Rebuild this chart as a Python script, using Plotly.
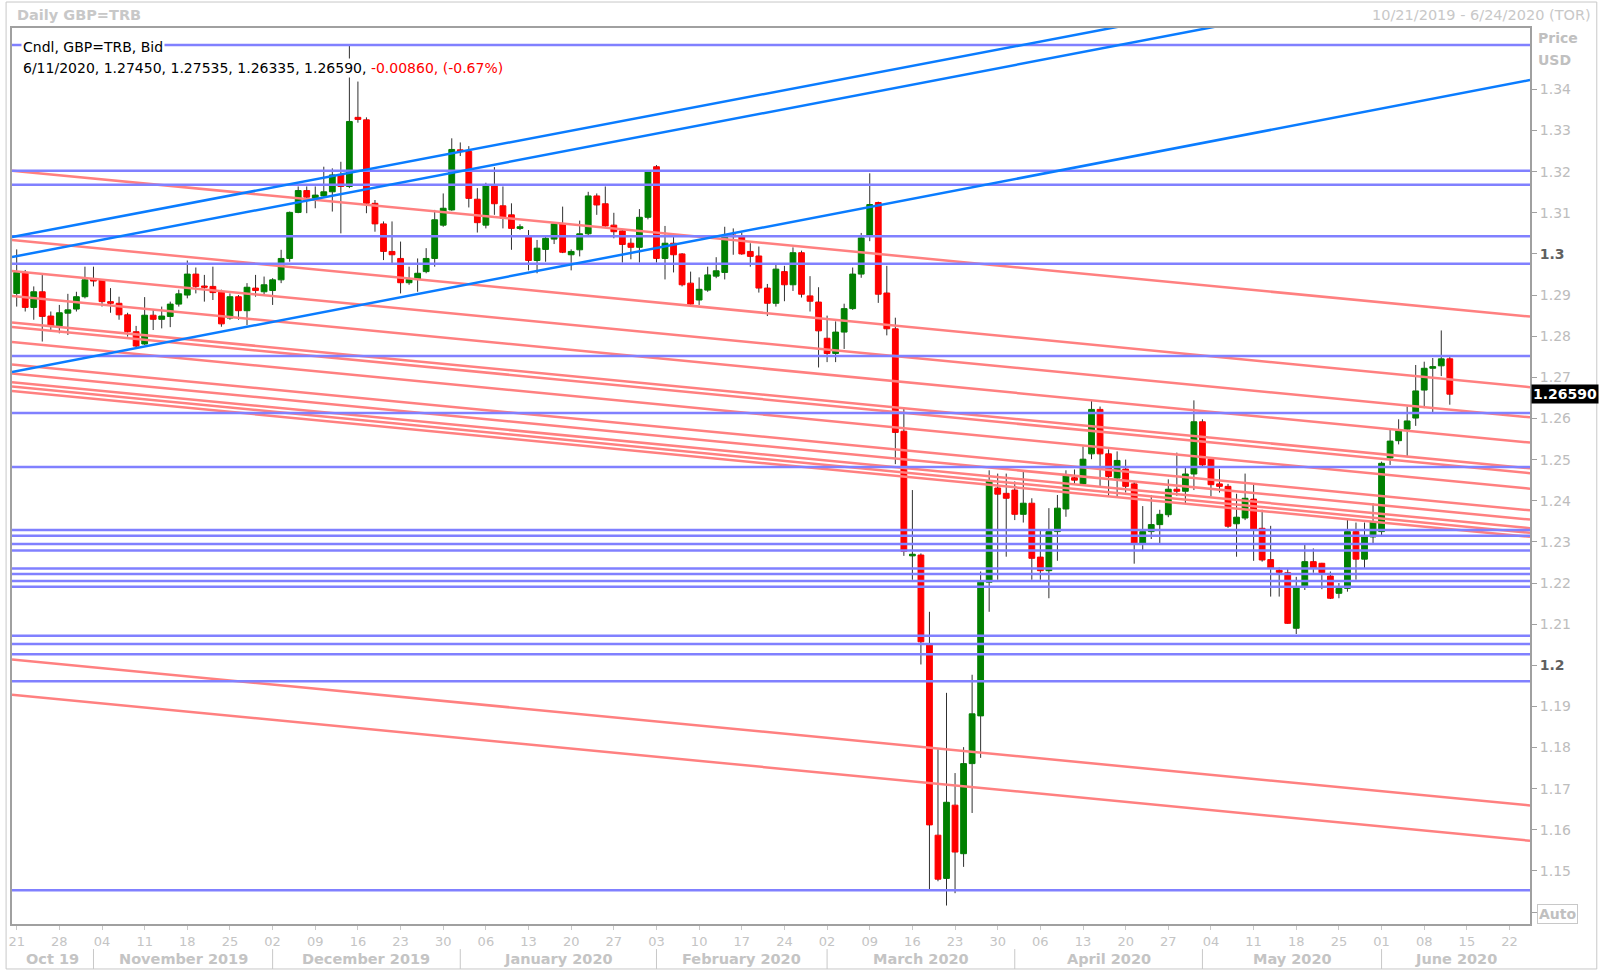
import plotly.graph_objects as go
import pandas as pd

# ---------------- data ----------------
dates = pd.bdate_range("2019-10-21", "2020-06-11")          # candle dates
axis_days = pd.bdate_range("2019-10-21", "2020-06-24")      # axis calendar (incl. future)

opens = [1.2904, 1.2955, 1.2870, 1.2908, 1.2849, 1.2825, 1.2856, 1.2866, 1.2896, 1.2939,
         1.2937, 1.2884, 1.2880, 1.2852, 1.2811, 1.2781, 1.2851, 1.2841, 1.2848, 1.2878,
         1.2900, 1.2951, 1.2922, 1.2921, 1.2907, 1.2844, 1.2896, 1.2862, 1.2917, 1.2908,
         1.2911, 1.2937, 1.2989, 1.3101, 1.3154, 1.3135, 1.3141, 1.3151, 1.3192, 1.3164,
         1.3332, 1.3326, 1.3123, 1.3073, 1.3006, 1.2989, 1.2930, 1.2938, 1.2957, 1.2989,
         1.3070, 1.3107, 1.3253, 1.3249, 1.3133, 1.3070, 1.3165, 1.3117, 1.3095, 1.3062,
         1.3041, 1.2984, 1.3011, 1.3036, 1.3073, 1.2998, 1.3010, 1.3049, 1.3141, 1.3122,
         1.3070, 1.3056, 1.3026, 1.3016, 1.3089, 1.3212, 1.2989, 1.3026, 1.3000, 1.2929,
         1.2888, 1.2912, 1.2946, 1.2955, 1.3046, 1.3042, 1.3006, 1.2995, 1.2917, 1.2880,
         1.2957, 1.2925, 1.3003, 1.2898, 1.2883, 1.2795, 1.2758, 1.2810, 1.2867, 1.2951,
         1.3045, 1.3125, 1.2905, 1.2818, 1.2569, 1.2266, 1.2268, 1.2050, 1.1587, 1.1482,
         1.1660, 1.1542, 1.1761, 1.1877, 1.2202, 1.2431, 1.2418, 1.2426, 1.2367, 1.2394,
         1.2263, 1.2230, 1.2325, 1.2380, 1.2456, 1.2441, 1.2514, 1.2622, 1.2514, 1.2455,
         1.2477, 1.2441, 1.2297, 1.2325, 1.2342, 1.2366, 1.2428, 1.2423, 1.2465, 1.2592,
         1.2501, 1.2441, 1.2435, 1.2344, 1.2358, 1.2404, 1.2333, 1.2257, 1.2231, 1.2225,
         1.2090, 1.2192, 1.2252, 1.2248, 1.2217, 1.2175, 1.2187, 1.2325, 1.2258, 1.2312,
         1.2325, 1.2504, 1.2546, 1.2574, 1.2601, 1.2669, 1.2722, 1.2728, 1.27450]
highs = [1.3011, 1.2961, 1.2921, 1.2949, 1.2860, 1.2876, 1.2903, 1.2908, 1.2969, 1.2969,
         1.2938, 1.2917, 1.2896, 1.2857, 1.2825, 1.2895, 1.2866, 1.2872, 1.2884, 1.2913,
         1.2984, 1.2967, 1.2949, 1.2969, 1.2913, 1.2904, 1.2900, 1.2929, 1.2949, 1.2945,
         1.2941, 1.3010, 1.3103, 1.3164, 1.3164, 1.3164, 1.3212, 1.3208, 1.3224, 1.3508,
         1.3419, 1.3332, 1.3131, 1.3079, 1.3079, 1.3030, 1.2969, 1.2989, 1.3014, 1.3107,
         1.3147, 1.3281, 1.3271, 1.3262, 1.3160, 1.3173, 1.3211, 1.3164, 1.3123, 1.3072,
         1.3058, 1.3034, 1.3041, 1.3075, 1.3115, 1.3011, 1.3081, 1.3151, 1.3147, 1.3164,
         1.3100, 1.3060, 1.3038, 1.3109, 1.3204, 1.3216, 1.3068, 1.3046, 1.3002, 1.2957,
         1.2943, 1.2969, 1.2992, 1.3066, 1.3062, 1.3052, 1.3026, 1.3018, 1.2927, 1.2973,
         1.2971, 1.3016, 1.3008, 1.2946, 1.2919, 1.2850, 1.2836, 1.2879, 1.2967, 1.3051,
         1.3196, 1.3127, 1.2971, 1.2845, 1.2627, 1.2426, 1.2272, 1.2130, 1.1796, 1.1933,
         1.1738, 1.1801, 1.1977, 1.2228, 1.2474, 1.2466, 1.2466, 1.2447, 1.2470, 1.2406,
         1.2327, 1.2382, 1.2414, 1.2474, 1.2476, 1.2532, 1.2644, 1.2629, 1.2525, 1.2520,
         1.2500, 1.2447, 1.2387, 1.2414, 1.2378, 1.2452, 1.2517, 1.2483, 1.2644, 1.2598,
         1.2503, 1.2477, 1.2441, 1.2417, 1.2466, 1.2439, 1.2378, 1.2339, 1.2238, 1.2234,
         1.2215, 1.2297, 1.2284, 1.2249, 1.2228, 1.2200, 1.2357, 1.2347, 1.2347, 1.2394,
         1.2495, 1.2574, 1.2598, 1.2629, 1.2730, 1.2738, 1.2747, 1.2814, 1.27535]
lows = [1.2872, 1.2860, 1.2840, 1.2787, 1.2811, 1.2807, 1.2803, 1.2860, 1.2892, 1.2921,
        1.2872, 1.2857, 1.2840, 1.2799, 1.2771, 1.2779, 1.2815, 1.2819, 1.2822, 1.2872,
        1.2892, 1.2904, 1.2884, 1.2888, 1.2823, 1.2840, 1.2840, 1.2827, 1.2896, 1.2900,
        1.2876, 1.2929, 1.2981, 1.3099, 1.3099, 1.3111, 1.3139, 1.3103, 1.3050, 1.3160,
        1.3319, 1.3099, 1.3054, 1.2985, 1.2977, 1.2904, 1.2925, 1.2908, 1.2953, 1.2969,
        1.3066, 1.3105, 1.3238, 1.3113, 1.3052, 1.3062, 1.3095, 1.3062, 1.3010, 1.3058,
        1.2960, 1.2953, 1.2981, 1.3024, 1.3002, 1.2960, 1.2994, 1.3046, 1.3095, 1.3066,
        1.3038, 1.2979, 1.2987, 1.2979, 1.3084, 1.2979, 1.2938, 1.2955, 1.2921, 1.2876,
        1.2876, 1.2908, 1.2941, 1.2938, 1.2998, 1.2998, 1.2969, 1.2906, 1.2849, 1.2872,
        1.2885, 1.2910, 1.2894, 1.2860, 1.2724, 1.2737, 1.2737, 1.2769, 1.2864, 1.2942,
        1.3031, 1.2881, 1.2802, 1.2489, 1.2266, 1.2208, 1.2002, 1.1455, 1.1475, 1.1416,
        1.1446, 1.1510, 1.1641, 1.1775, 1.2130, 1.2208, 1.2264, 1.2353, 1.2347, 1.2208,
        1.2208, 1.2163, 1.2254, 1.2361, 1.2441, 1.2436, 1.2501, 1.2436, 1.2412, 1.2411,
        1.2420, 1.2247, 1.2280, 1.2307, 1.2297, 1.2360, 1.2412, 1.2394, 1.2426, 1.2483,
        1.2411, 1.2420, 1.2334, 1.2264, 1.2353, 1.2254, 1.2252, 1.2167, 1.2167, 1.2101,
        1.2076, 1.2183, 1.2225, 1.2185, 1.2161, 1.2163, 1.2179, 1.2208, 1.2236, 1.2297,
        1.2315, 1.2487, 1.2537, 1.2506, 1.2582, 1.2625, 1.2615, 1.2703, 1.26335]
closes = [1.2955, 1.2870, 1.2908, 1.2848, 1.2825, 1.2857, 1.2864, 1.2896, 1.2937, 1.2934,
          1.2884, 1.2880, 1.2852, 1.2811, 1.2776, 1.2851, 1.2841, 1.2849, 1.2878, 1.2903,
          1.2951, 1.2921, 1.2919, 1.2906, 1.2830, 1.2896, 1.2862, 1.2919, 1.2911, 1.2925,
          1.2937, 1.2989, 1.3101, 1.3154, 1.3138, 1.3143, 1.3151, 1.3192, 1.3164, 1.3322,
          1.3327, 1.3123, 1.3073, 1.3006, 1.2998, 1.2930, 1.2938, 1.2953, 1.2989, 1.3083,
          1.3111, 1.3254, 1.3249, 1.3135, 1.3076, 1.3168, 1.3122, 1.3087, 1.3062, 1.3066,
          1.2984, 1.3014, 1.3038, 1.3073, 1.3004, 1.3006, 1.3049, 1.3141, 1.3119, 1.3068,
          1.3054, 1.3023, 1.3016, 1.3089, 1.3200, 1.2989, 1.3026, 1.2998, 1.2925, 1.2878,
          1.2914, 1.2949, 1.2959, 1.3042, 1.3042, 1.3000, 1.2994, 1.2917, 1.2880, 1.2963,
          1.2925, 1.3003, 1.2902, 1.2885, 1.2813, 1.2758, 1.2810, 1.2867, 1.2951, 1.3039,
          1.3120, 1.2902, 1.2818, 1.2566, 1.2277, 1.2270, 1.2057, 1.1612, 1.1480, 1.1667,
          1.1546, 1.1761, 1.1882, 1.2202, 1.2449, 1.2416, 1.2406, 1.2367, 1.2394, 1.2260,
          1.2230, 1.2325, 1.2382, 1.2460, 1.2450, 1.2501, 1.2622, 1.2514, 1.2459, 1.2498,
          1.2435, 1.2297, 1.2325, 1.2342, 1.2367, 1.2428, 1.2423, 1.2465, 1.2592, 1.2487,
          1.2439, 1.2435, 1.2338, 1.2360, 1.2406, 1.2331, 1.2256, 1.2236, 1.2226, 1.2102,
          1.2188, 1.2252, 1.2236, 1.2225, 1.2163, 1.2187, 1.2325, 1.2258, 1.2312, 1.2349,
          1.2491, 1.2545, 1.2570, 1.2594, 1.2667, 1.2722, 1.2726, 1.2745, 1.26590]

# horizontal support/resistance levels
h_levels = [1.3508, 1.3202, 1.3168, 1.3043, 1.2976, 1.2752, 1.2613, 1.2482,
            1.2329, 1.2315, 1.2295, 1.2279, 1.2235, 1.2222, 1.2205, 1.2191,
            1.2072, 1.2052, 1.2027, 1.1961, 1.1453]
# falling trend lines: price at left edge / right edge of the chart
down_start = [1.32024, 1.30340, 1.29587, 1.28979, 1.28335, 1.28226, 1.27861,
              1.27310, 1.27091, 1.26882, 1.26780, 1.26671, 1.20141, 1.19283]
down_end = [1.28476, 1.26761, 1.26027, 1.25414, 1.24787, 1.24671, 1.24294,
            1.23767, 1.23543, 1.23334, 1.23220, 1.23123, 1.16593, 1.15735]
# rising trend lines
up_start = [1.30411, 1.29925, 1.27130]
up_end = [1.37426, 1.36989, 1.34228]

month_names = ["Oct 19", "November 2019", "December 2019", "January 2020", "February 2020",
               "March 2020", "April 2020", "May 2020", "June 2020"]
y_ticks = [1.14, 1.15, 1.16, 1.17, 1.18, 1.19, 1.20, 1.21, 1.22, 1.23, 1.24, 1.25,
           1.26, 1.27, 1.28, 1.29, 1.30, 1.31, 1.32, 1.33, 1.34]

# ---------------- layout constants ----------------
X_MIN, X_MAX = -0.55, 177.4
Y_MIN, Y_MAX = 1.13711, 1.35492
GREEN, RED = "#008000", "#FF0000"
FONT = "DejaVu Sans, Verdana, sans-serif"
LIGHT = "#C4C4C4"

idx = list(range(len(dates)))
body_hi = [max(o, c) for o, c in zip(opens, closes)]
body_lo = [min(o, c) for o, c in zip(opens, closes)]

fig = go.Figure()

fig.add_trace(go.Candlestick(
    x=idx, open=opens, high=body_hi, low=body_lo, close=closes,
    increasing=dict(fillcolor=GREEN, line=dict(color=GREEN, width=1)),
    decreasing=dict(fillcolor=RED, line=dict(color=RED, width=1)),
    whiskerwidth=0, showlegend=False, hoverinfo="skip"))

# wicks (dark), drawn outside the bodies
wx, wy = [], []
for i, h, l, bh, bl in zip(idx, highs, lows, body_hi, body_lo):
    wx += [i, i, None, i, i, None]
    wy += [h, bh, None, bl, l, None]
fig.add_trace(go.Scatter(x=wx, y=wy, mode="lines", line=dict(color="#303030", width=1),
                         hoverinfo="skip", showlegend=False))


def seg_trace(starts, ends, color, width):
    xs, ys = [], []
    for s, e in zip(starts, ends):
        xs += [X_MIN, X_MAX, None]
        ys += [s, e, None]
    return go.Scatter(x=xs, y=ys, mode="lines", line=dict(color=color, width=width),
                      hoverinfo="skip", showlegend=False)


fig.add_trace(seg_trace(down_start, down_end, "#FF8080", 2.5))
fig.add_trace(seg_trace(h_levels, h_levels, "#8080FF", 2.5))
fig.add_trace(seg_trace(up_start, up_end, "#0A7CFF", 2.5))

# x ticks: Mondays
tickvals = [i for i, d in enumerate(axis_days) if d.weekday() == 0]
ticktext = [axis_days[i].strftime("%d") for i in tickvals]

# month separators and labels
firsts = []
prev = None
for i, d in enumerate(axis_days):
    key = (d.year, d.month)
    if key != prev:
        firsts.append(i)
        prev = key
seps = firsts[1:]
bounds = [X_MIN] + seps + [X_MAX]
centers = [(bounds[k] + bounds[k + 1]) / 2 for k in range(len(bounds) - 1)]

shapes = []
for s in seps:
    shapes.append(dict(type="line", xref="x", yref="paper", x0=s, x1=s,
                       y0=-0.028, y1=-0.0502, line=dict(color="#C8C8C8", width=1)))
# outer frame
shapes.append(dict(type="rect", xref="paper", yref="paper", x0=-0.0039, x1=1.0440,
                   y0=1.029, y1=-0.0502, line=dict(color="#C8C8C8", width=1)))

annotations = []
for c, name in zip(centers, month_names):
    annotations.append(dict(x=c, y=-0.0391, xref="x", yref="paper", text="<b>%s</b>" % name,
                            showarrow=False, xanchor="center", yanchor="middle",
                            font=dict(family=FONT, size=14.5, color=LIGHT)))

annotations += [
    dict(x=0.0018, y=1.0145, xref="paper", yref="paper", text="<b>Daily GBP=TRB</b>",
         showarrow=False, xanchor="left", yanchor="middle",
         font=dict(family=FONT, size=14.5, color="#C8C8C8")),
    dict(x=1.0414, y=1.0145, xref="paper", yref="paper", text="10/21/2019 - 6/24/2020 (TOR)",
         showarrow=False, xanchor="right", yanchor="middle",
         font=dict(family=FONT, size=14.5, color="#C8C8C8")),
    dict(x=0.0060, y=0.9788, xref="paper", yref="paper", text="Cndl, GBP=TRB, Bid",
         showarrow=False, xanchor="left", yanchor="middle", bgcolor="white", borderpad=1,
         font=dict(family=FONT, size=14, color="black")),
    dict(x=0.0060, y=0.9554, xref="paper", yref="paper",
         text="6/11/2020, 1.27450, 1.27535, 1.26335, 1.26590, "
              "<span style='color:#FF0000'>-0.00860, (-0.67%)</span>",
         showarrow=False, xanchor="left", yanchor="middle", bgcolor="white", borderpad=1,
         font=dict(family=FONT, size=14, color="black")),
    dict(x=1.0039, y=0.9888, xref="paper", yref="paper", text="<b>Price</b>",
         showarrow=False, xanchor="left", yanchor="middle",
         font=dict(family=FONT, size=14, color="#C0C0C0")),
    dict(x=1.0039, y=0.9643, xref="paper", yref="paper", text="<b>USD</b>",
         showarrow=False, xanchor="left", yanchor="middle",
         font=dict(family=FONT, size=14, color="#C0C0C0")),
    dict(x=1.0007, y=closes[-1], xref="paper", yref="y", text="<b>%.5f</b>" % closes[-1],
         showarrow=False, xanchor="left", yanchor="middle", bgcolor="black", borderpad=1,
         font=dict(family=FONT, size=14, color="white")),
    dict(x=1.0046, y=0.0112, xref="paper", yref="paper", text="<b>Auto</b>",
         showarrow=False, xanchor="left", yanchor="middle", bordercolor="#C8C8C8",
         borderwidth=1, borderpad=1, bgcolor="white",
         font=dict(family=FONT, size=14, color="#C0C0C0")),
]

ytext = []
for v in y_ticks:
    if abs(v - 1.14) < 1e-9:
        ytext.append("")
    elif abs(v - 1.2) < 1e-9 or abs(v - 1.3) < 1e-9:
        ytext.append("<b><span style='color:#606060'>%g</span></b>" % v)
    else:
        ytext.append("%.2f" % v)

fig.update_layout(
    width=1600, height=972,
    margin=dict(l=8, r=70, t=28, b=48),
    paper_bgcolor="white", plot_bgcolor="white",
    showlegend=False, boxgap=0.32, boxgroupgap=0,
    font=dict(family=FONT),
    xaxis=dict(range=[X_MIN, X_MAX], rangeslider=dict(visible=False), showgrid=False,
               zeroline=False, tickvals=tickvals, ticktext=ticktext, ticks="outside",
               ticklen=4, tickcolor="#C8C8C8", tickfont=dict(family=FONT, size=13, color=LIGHT),
               showline=True, mirror=True, linecolor="#A0A0A0", linewidth=2),
    yaxis=dict(range=[Y_MIN, Y_MAX], side="right", showgrid=False, zeroline=False,
               tickvals=y_ticks, ticktext=ytext, ticks="outside", ticklen=5,
               tickcolor="#A0A0A0", tickfont=dict(family=FONT, size=14, color="#BDBDBD"),
               showline=True, mirror=True, linecolor="#A0A0A0", linewidth=2),
    shapes=shapes, annotations=annotations,
)

fig.write_html("out.html", config={"displayModeBar": False},
               post_script="document.body.style.margin='0';document.body.style.padding='0';")
